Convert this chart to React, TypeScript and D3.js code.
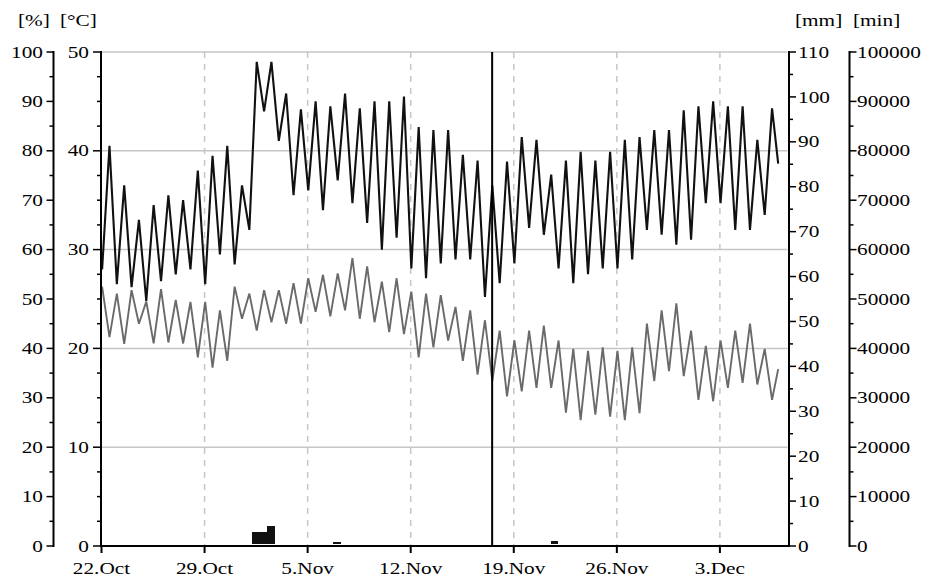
import * as d3 from 'd3';

const W = 927;
const H = 580;

// time window of the plot
const startDay = new Date(2008, 9, 22);
const endTime = new Date(2008, 11, 7, 14, 10);

// air temperature [°C]: night low (~01:00) and afternoon high (~13:00), one per day from 22.Oct
const tempLow = [
  28, 26.5, 26.2, 24.8, 26.8, 27.5, 28, 26.5, 29.5, 28.5,
  32, 44, 41, 35.5, 36, 34, 37, 34.7, 32.7, 30,
  31.2, 28.1, 27.1, 28.6, 29, 29, 25.2, 26.6, 28.6, 32.2,
  31.5, 28.1, 26.6, 27.5, 28.1, 28.1, 29, 32, 31.5, 30.5,
  31, 34.7, 34.7, 32, 32, 33.5,
];
const tempHigh = [
  40.5, 36.5, 33, 34.5, 35.5, 35, 38, 39.5, 40.5, 36.5,
  49, 49, 45.8, 44.2, 45, 44.5, 45.8, 44.3, 45, 45,
  45.5, 42.4, 42.1, 42.1, 39.6, 39, 36.5, 38.9, 41.4, 41.1,
  37.6, 39, 39.9, 39, 39.9, 41.1, 41.4, 42.1, 42.1, 44.1,
  44.5, 45, 44.5, 44.5, 41.1, 44.3,
];
const tempLast = 38.7;

// relative humidity [%]: night high (~01:00) and midday low (~13:00)
const humHigh = [
  52.5, 51.1, 51.8, 49.5, 52, 49.8, 49.4, 49.4, 47.7, 52.5,
  51.1, 51.8, 51.8, 53.2, 54.2, 54.9, 55.2, 58.3, 56.6, 53.5,
  54.2, 51.5, 51.1, 50.8, 48.4, 47.7, 45.7, 43.6, 41.6, 43.6,
  44.6, 41.6, 39.9, 39.5, 40.2, 39.5, 40.2, 45, 47.7, 49.1,
  43.6, 40.5, 41.6, 43.6, 45, 39.9,
];
const humLow = [
  42.3, 40.9, 45, 41, 41.2, 41, 38.2, 36.1, 37.5, 46,
  43.6, 45.3, 45, 45, 47.4, 46.5, 47.7, 46, 45.3, 43.3,
  42.9, 38.2, 40.2, 41.6, 37.5, 34.7, 33.4, 30.3, 31.3, 32,
  32, 27, 25.5, 26.6, 26.2, 25.5, 26.9, 33.4, 35.4, 34.4,
  29.6, 29.3, 32, 33, 32.7, 29.6,
];
const humLast = 35.8;

// precipitation [mm] in 12 hour sums
const rainStart = [
  new Date(2008, 10, 1, 6),
  new Date(2008, 10, 1, 18),
  new Date(2008, 10, 2, 6),
  new Date(2008, 10, 6, 18),
  new Date(2008, 10, 21, 12),
];
const rainMm = [2.6, 2.6, 3.8, 0.4, 0.6];

// logger restart
const markerTime = new Date(2008, 10, 17, 12, 45);

const dateTicks = [
  new Date(2008, 9, 22),
  new Date(2008, 9, 29),
  new Date(2008, 10, 5),
  new Date(2008, 10, 12),
  new Date(2008, 10, 19),
  new Date(2008, 10, 26),
  new Date(2008, 11, 3),
];
const dateLabels = ['22.Oct', '29.Oct', '5.Nov', '12.Nov', '19.Nov', '26.Nov', '3.Dec'];

const FONT = "'Liberation Serif', 'Times New Roman', serif";
const SX = 1.33;

const Label = ({ x, y, anchor = 'start', dy = '0', children }: any) => (
  <text
    transform={`translate(${x},${y}) scale(${SX},1)`}
    textAnchor={anchor}
    dy={dy}
    fontFamily={FONT}
    fontSize={16}
    fill="#000"
  >
    {children}
  </text>
);

export default function App() {
  const left = 101.5;
  const right = 787.5;
  const top = 52;
  const bottom = 546;

  const x = d3.scaleTime().domain([startDay, endTime]).range([left, right]);
  const yTemp = d3.scaleLinear().domain([0, 50]).range([bottom, top]);
  const yHum = d3.scaleLinear().domain([0, 100]).range([bottom, top]);
  const yMm = d3.scaleLinear().domain([0, 110]).range([bottom, top]);
  const yMin = d3.scaleLinear().domain([0, 100000]).range([bottom, top]);

  const at = (d: number, h: number) => new Date(2008, 9, 22 + d, h);

  const tempPts = tempLow
    .flatMap((v, i) => [
      { t: at(i, 1), v },
      { t: at(i, 13), v: tempHigh[i] },
    ])
    .concat([{ t: at(45, 23), v: tempLast }]);
  const humPts = humHigh
    .flatMap((v, i) => [
      { t: at(i, 1), v },
      { t: at(i, 13), v: humLow[i] },
    ])
    .concat([{ t: at(45, 23), v: humLast }]);

  const tempLine = d3
    .line<any>()
    .x((d) => x(d.t))
    .y((d) => yTemp(d.v));
  const humLine = d3
    .line<any>()
    .x((d) => x(d.t))
    .y((d) => yHum(d.v));

  // axis positions
  const humAxisX = 53.5;
  const tempAxisX = 101;
  const mmAxisX = 789;
  const minAxisX = 849.5;

  const tempMinor = d3.range(0, 50.01, 2.5);
  const humTicks = yHum.ticks(20);
  const mmTicks = yMm.ticks(22);
  const minTicks = yMin.ticks(20);

  return (
    <svg
      width={W}
      height={H}
      viewBox={`0 0 ${W} ${H}`}
      style={{ position: 'absolute', left: 0, top: 0, background: '#fff' }}
    >
      {/* grid */}
      <g>
        {[10, 20, 30, 40, 50].map((t) => (
          <line key={t} x1={left} x2={right} y1={yTemp(t)} y2={yTemp(t)} stroke="#c6c6c6" strokeWidth={1.5} />
        ))}
        {dateTicks.slice(1).map((d, i) => (
          <line
            key={i}
            x1={x(d)}
            x2={x(d)}
            y1={top}
            y2={bottom}
            stroke="#c6c6c6"
            strokeWidth={1.5}
            strokeDasharray="6 6"
          />
        ))}
      </g>

      {/* series */}
      <path d={humLine(humPts) || ''} fill="none" stroke="#6a6a6a" strokeWidth={1.9} strokeLinejoin="bevel" />
      <path d={tempLine(tempPts) || ''} fill="none" stroke="#111" strokeWidth={2.1} strokeLinejoin="bevel" />

      <g shapeRendering="crispEdges">
        {rainStart.map((s, i) => {
          const e = new Date(s.getTime() + 12 * 3600 * 1000);
          return (
            <rect
              key={i}
              x={x(s)}
              width={x(e) - x(s) + 0.5}
              y={yMm(rainMm[i]) - 2.5}
              height={yMm(0) - yMm(rainMm[i])}
              fill="#111"
            />
          );
        })}
      </g>

      <line x1={x(markerTime)} x2={x(markerTime)} y1={top} y2={bottom} stroke="#000" strokeWidth={2} />

      {/* x axis */}
      <line x1={tempAxisX} x2={mmAxisX} y1={bottom} y2={bottom} stroke="#000" strokeWidth={2} />
      {dateTicks.map((d, i) => (
        <g key={i}>
          <line x1={x(d)} x2={x(d)} y1={bottom} y2={bottom + 7} stroke="#000" strokeWidth={2} />
          <Label x={x(d)} y={574} anchor="middle">
            {dateLabels[i]}
          </Label>
        </g>
      ))}

      {/* left: % */}
      <line x1={humAxisX} x2={humAxisX} y1={top - 1} y2={bottom + 1} stroke="#000" strokeWidth={2} />
      {humTicks.map((t) => {
        const major = t % 10 === 0;
        return (
          <g key={t}>
            <line x1={humAxisX - (major ? 7 : 4)} x2={humAxisX} y1={yHum(t)} y2={yHum(t)} stroke="#000" strokeWidth={1.5} />
            {major && (
              <Label x={43} y={yHum(t)} anchor="end" dy="0.35em">
                {t}
              </Label>
            )}
          </g>
        );
      })}

      {/* left: °C */}
      <line x1={tempAxisX} x2={tempAxisX} y1={top - 1} y2={bottom + 1} stroke="#000" strokeWidth={2} />
      {tempMinor.map((t) => {
        const major = t % 10 === 0;
        return (
          <g key={t}>
            <line x1={tempAxisX - (major ? 8 : 4)} x2={tempAxisX} y1={yTemp(t)} y2={yTemp(t)} stroke="#000" strokeWidth={1.5} />
            {major && (
              <Label x={89} y={yTemp(t)} anchor="end" dy="0.35em">
                {t}
              </Label>
            )}
          </g>
        );
      })}

      {/* right: mm */}
      <line x1={mmAxisX} x2={mmAxisX} y1={top - 1} y2={bottom + 1} stroke="#000" strokeWidth={2} />
      {mmTicks.map((t) => {
        const major = t % 10 === 0;
        return (
          <g key={t}>
            <line x1={mmAxisX} x2={mmAxisX + (major ? 7 : 4)} y1={yMm(t)} y2={yMm(t)} stroke="#000" strokeWidth={1.5} />
            {major && (
              <Label x={798} y={yMm(t)} anchor="start" dy="0.35em">
                {t}
              </Label>
            )}
          </g>
        );
      })}

      {/* right: min */}
      <line x1={minAxisX} x2={minAxisX} y1={top - 1} y2={bottom + 1} stroke="#000" strokeWidth={2} />
      {minTicks.map((t) => {
        const major = t % 10000 === 0;
        return (
          <g key={t}>
            <line x1={minAxisX} x2={minAxisX + (major ? 7 : 4)} y1={yMin(t)} y2={yMin(t)} stroke="#000" strokeWidth={1.5} />
            {major && (
              <Label x={857} y={yMin(t)} anchor="start" dy="0.35em">
                {t}
              </Label>
            )}
          </g>
        );
      })}

      {/* units */}
      <Label x={18} y={26}>[%]</Label>
      <Label x={60} y={26}>[°C]</Label>
      <Label x={795} y={26}>[mm]</Label>
      <Label x={853} y={26}>[min]</Label>
    </svg>
  );
}
